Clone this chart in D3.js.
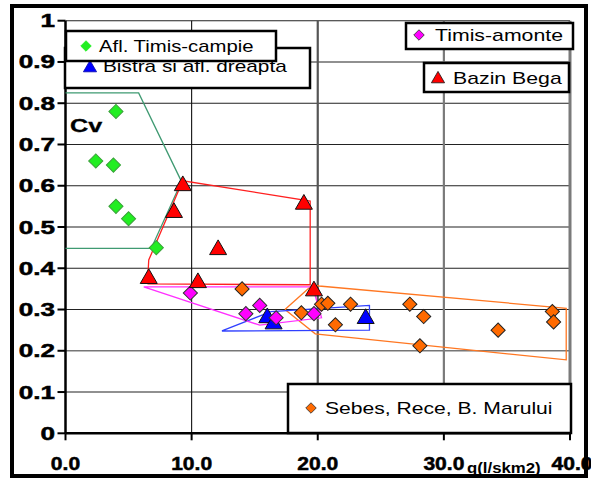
<!DOCTYPE html>
<html>
<head>
<meta charset="utf-8">
<script src="https://cdn.jsdelivr.net/npm/d3@7"></script>
<style>
  body { margin: 0; background: #fff; }
  svg { display: block; font-family: "Liberation Sans", Arial, sans-serif; }
</style>
</head>
<body>
<div id="chart"></div>
<script>
// valori: [q (l/skm2), Cv]
const timisCampie = [[2.4, 0.66], [3.8, 0.65], [4.0, 0.78], [4.0, 0.55], [5.0, 0.52], [7.2, 0.45]];
const bistra = [[16.0, 0.28], [16.5, 0.265], [23.8, 0.278]];
const timisAmonte = [[9.9, 0.34], [14.3, 0.29], [15.4, 0.31], [16.7, 0.28], [19.7, 0.29]];
const bazinBega = [[6.6, 0.375], [8.6, 0.535], [9.3, 0.6], [10.5, 0.365], [12.1, 0.445], [18.9, 0.555], [19.7, 0.345]];
const sebes = [[14.0, 0.35], [18.7, 0.292], [20.3, 0.313], [20.8, 0.315], [21.4, 0.263], [22.6, 0.313],
               [27.3, 0.313], [28.1, 0.212], [28.4, 0.283], [34.3, 0.25], [38.6, 0.295], [38.7, 0.27]];

// contururi (poligoane) trasate manual pe grafic
const hullCampie = [[0, 0.825], [5.8, 0.825], [9.2, 0.61], [6.8, 0.448], [0, 0.448]];
const hullBega = [[6.5, 0.362], [6.6, 0.42], [9.3, 0.612], [19.4, 0.563], [19.4, 0.36], [6.5, 0.362]];
const hullAmonte = [[6.2, 0.355], [19.6, 0.355], [20.3, 0.28], [15.4, 0.262], [6.2, 0.355]];
const hullBistra = [[12.4, 0.248], [24.1, 0.25], [24.1, 0.31], [16.3, 0.295], [12.4, 0.248]];
const hullSebes = [[17.4, 0.3], [19.6, 0.36], [20.1, 0.357], [39.7, 0.303], [39.7, 0.178], [19.8, 0.241], [17.4, 0.3]];

const yTicks = [0, 0.1, 0.2, 0.3, 0.4, 0.5, 0.6, 0.7, 0.8, 0.9, 1];
const xTicks = [0, 10, 20, 30, 40];

const width = 591, height = 479;

const svg = d3.select("#chart").append("svg")
    .attr("width", width)
    .attr("height", height);

const x = d3.scaleLinear().domain([0, 40]).range([65.5, 570]);
const y = d3.scaleLinear().domain([0, 1]).range([433.3, 20.7]);

// testo "largo" come nel grafico Excel originale
function wideText(parent, tx, ty, str, opts) {
    const t = parent.append("text")
        .attr("transform", `translate(${tx},${ty}) scale(${opts.k || 1.3},1)`)
        .attr("font-size", opts.size)
        .attr("font-weight", opts.bold ? "bold" : "normal")
        .attr("text-anchor", opts.anchor || "start")
        .attr("fill", "#000")
        .text(str);
    if (opts.heavy) t.attr("stroke", "#000").attr("stroke-width", opts.heavy);
    return t;
}

// griglia
const grid = svg.append("g");
grid.selectAll("line.h")
    .data(yTicks.slice(1))
    .enter().append("line")
    .attr("x1", x(0)).attr("x2", x(40))
    .attr("y1", d => y(d)).attr("y2", d => y(d))
    .attr("stroke", d => d === 0.2 ? "#777" : "#222")
    .attr("stroke-width", d => d === 0.2 ? 1.6 : 1.1);

grid.selectAll("line.v")
    .data(xTicks.slice(1))
    .enter().append("line")
    .attr("x1", d => x(d)).attr("x2", d => x(d))
    .attr("y1", y(0)).attr("y2", y(1))
    .attr("stroke", d => d === 10 ? "#111" : (d === 20 ? "#555" : "#7a7a7a"))
    .attr("stroke-width", d => d === 10 ? 1.1 : (d === 40 ? 3 : 2.2));

// assi
svg.append("line")
    .attr("x1", x(0)).attr("x2", x(0)).attr("y1", y(1)).attr("y2", y(0))
    .attr("stroke", "#000").attr("stroke-width", 2.5);
svg.append("line")
    .attr("x1", x(0)).attr("x2", x(40)).attr("y1", y(0)).attr("y2", y(0))
    .attr("stroke", "#000").attr("stroke-width", 2.5);

svg.append("g").selectAll("line")
    .data(yTicks).enter().append("line")
    .attr("x1", x(0) - 8).attr("x2", x(0))
    .attr("y1", d => y(d)).attr("y2", d => y(d))
    .attr("stroke", "#000").attr("stroke-width", 2);

svg.append("g").selectAll("line")
    .data(xTicks).enter().append("line")
    .attr("x1", d => x(d)).attr("x2", d => x(d))
    .attr("y1", y(0)).attr("y2", y(0) + 7)
    .attr("stroke", "#000").attr("stroke-width", 2);

const labels = svg.append("g");
yTicks.forEach(d => {
    wideText(labels, 55, y(d) + 6.5, d === 0 || d === 1 ? String(d) : d.toFixed(1),
        { size: 18, bold: true, anchor: "end", k: 1.45, heavy: 0.5 });
});
xTicks.forEach(d => {
    wideText(labels, x(d) + (d === 40 ? 2 : 0), 470, d.toFixed(1), { size: 18, bold: true, anchor: "middle", k: 1.17, heavy: 0.5 });
});

wideText(svg, 70, 132, "Cv", { size: 18, bold: true, k: 1.4, heavy: 0.3 });
wideText(svg, 467, 473, "q(l/skm2)", { size: 14, bold: true, k: 1.2 });

// contururi
const line = d3.line().x(d => x(d[0])).y(d => y(d[1]));
const hulls = [
    { pts: hullCampie, color: "#3f9a72" },
    { pts: hullSebes, color: "#ff7722" },
    { pts: hullBistra, color: "#3040ff" },
    { pts: hullAmonte, color: "#ff30ff" },
    { pts: hullBega, color: "#ff2020" }
];
svg.append("g").selectAll("path")
    .data(hulls).enter().append("path")
    .attr("d", d => line(d.pts))
    .attr("fill", "none")
    .attr("stroke", d => d.color)
    .attr("stroke-width", 1.3);

// simboli
const diamond = d3.symbol(d3.symbolSquare, 100)();
const triangle = d3.symbol(d3.symbolTriangle, 125)();

function drawSeries(data, shape, fill, stroke) {
    svg.append("g").selectAll("path")
        .data(data).enter().append("path")
        .attr("d", shape === "diamond" ? diamond : triangle)
        .attr("transform", d => `translate(${x(d[0])},${y(d[1])})` + (shape === "diamond" ? " rotate(45)" : ""))
        .attr("fill", fill)
        .attr("stroke", stroke)
        .attr("stroke-width", 1);
}

drawSeries(sebes, "diamond", "#ff6a00", "#222");
drawSeries(bistra, "triangle", "#0000ff", "#111");
drawSeries(timisAmonte, "diamond", "#ff00ff", "#333");
drawSeries(bazinBega, "triangle", "#ff0000", "#111");
drawSeries(timisCampie, "diamond", "#22ee22", "#3aa03a");

// legende
function legendBox(x0, y0, w, h) {
    svg.append("rect")
        .attr("x", x0).attr("y", y0).attr("width", w).attr("height", h)
        .attr("fill", "#fff").attr("stroke", "#000").attr("stroke-width", 2.5);
}
function legendMark(cx, cy, shape, fill, stroke) {
    svg.append("path")
        .attr("d", shape === "diamond" ? d3.symbol(d3.symbolSquare, 55)() : d3.symbol(d3.symbolTriangle, 75)())
        .attr("transform", `translate(${cx},${cy})` + (shape === "diamond" ? " rotate(45)" : ""))
        .attr("fill", fill).attr("stroke", stroke).attr("stroke-width", 0.8);
}

legendBox(65, 48, 245, 40);
legendMark(90, 68, "triangle", "#0000ff", "#0000aa");
wideText(svg, 103, 72, "Bistra si afl. dreapta", { size: 16, k: 1.3 });

legendBox(66, 31, 210, 30);
legendMark(86, 46, "diamond", "#22ee22", "#22ee22");
wideText(svg, 99, 52, "Afl. Timis-campie", { size: 16, k: 1.27 });

legendBox(406, 23, 167, 26);
legendMark(419, 35, "diamond", "#ff00ff", "#333");
wideText(svg, 435, 41, "Timis-amonte", { size: 16, k: 1.33 });

legendBox(424, 63, 145, 29);
legendMark(438, 79, "triangle", "#ff0000", "#111");
wideText(svg, 453, 84, "Bazin Bega", { size: 16, k: 1.33 });

legendBox(288, 384, 283, 49);
legendMark(311, 408, "diamond", "#ff6a00", "#333");
wideText(svg, 325, 414, "Sebes, Rece, B. Marului", { size: 16, k: 1.32 });

// cornice esterna
svg.append("rect")
    .attr("x", 12).attr("y", 6).attr("width", 574).attr("height", 470)
    .attr("fill", "none").attr("stroke", "#000").attr("stroke-width", 4);
</script>
</body>
</html>
